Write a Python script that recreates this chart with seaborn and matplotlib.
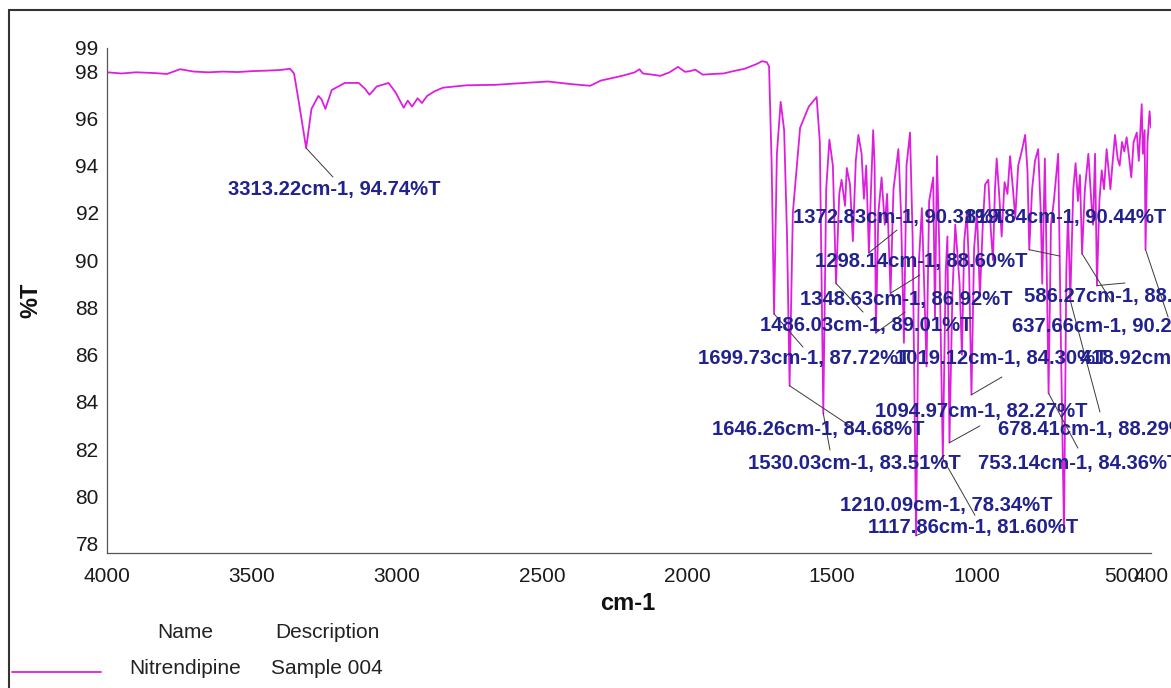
import numpy as np
import pandas as pd
import matplotlib
matplotlib.use("Agg")
import matplotlib.pyplot as plt
from matplotlib.lines import Line2D
import seaborn as sns

# FTIR transmittance spectrum of nitrendipine (wavenumber in cm-1, transmittance in %T)
wavenumber = [
    4000, 3950, 3900, 3840, 3793, 3748, 3700, 3650, 3600, 3550, 3500, 3450, 3400,
    3369, 3355, 3340, 3313.22, 3295, 3271, 3260, 3247, 3225, 3180, 3132, 3110, 3095,
    3070, 3029, 3005, 2977, 2963, 2948, 2929, 2914, 2896, 2870, 2841, 2760, 2660,
    2560, 2479, 2400, 2334, 2297, 2260, 2224, 2180, 2164, 2152, 2120, 2092, 2060,
    2031, 2007, 1990, 1971, 1946, 1910, 1874, 1840, 1801, 1760, 1741, 1725, 1717,
    1708, 1699.73, 1690, 1677, 1665, 1655, 1646.26, 1635, 1610, 1580, 1553, 1542,
    1530.03, 1520, 1509, 1497, 1486.03, 1475, 1467, 1455, 1449, 1438, 1428, 1418,
    1409, 1398, 1390, 1382, 1372.83, 1364, 1358, 1353, 1348.63, 1340, 1329, 1318,
    1310, 1298.14, 1288, 1271, 1262, 1252, 1243, 1231, 1222, 1210.09, 1200, 1190,
    1180, 1174, 1165, 1151, 1145, 1138, 1130, 1117.86, 1108, 1102, 1094.97, 1085,
    1075, 1060, 1052, 1044, 1035, 1027, 1019.12, 1010, 1000, 990, 980, 972, 961,
    952, 945, 938, 932, 922, 915, 905, 895, 886, 876, 868, 858, 846, 834, 826,
    819.84, 810, 800, 789, 780, 775, 768, 766, 760, 753.14, 745, 735, 720, 710,
    700, 692, 686, 678.41, 668, 660, 652, 645, 637.66, 628, 616, 606, 600, 593,
    586.27, 578, 570, 562, 553, 540, 532, 524, 515, 508, 500, 492, 484, 476, 468,
    460, 449, 442, 437, 432, 428, 422, 418.92, 412, 405, 400,
]
transmittance = [
    97.95, 97.90, 97.95, 97.92, 97.88, 98.08, 97.98, 97.95, 97.98, 97.96, 98.00, 98.02, 98.05,
    98.10, 97.90, 96.80, 94.74, 96.40, 96.95, 96.80, 96.40, 97.20, 97.50, 97.50, 97.25, 97.00,
    97.35, 97.50, 97.10, 96.45, 96.75, 96.50, 96.85, 96.65, 96.95, 97.15, 97.30, 97.40, 97.42,
    97.50, 97.56, 97.45, 97.38, 97.60, 97.70, 97.80, 97.95, 98.08, 97.90, 97.85, 97.80, 97.95,
    98.18, 97.97, 98.00, 98.06, 97.85, 97.88, 97.90, 98.00, 98.10, 98.30, 98.42, 98.38, 98.20,
    94.00, 87.72, 94.50, 96.70, 95.50, 91.00, 84.68, 92.00, 95.60, 96.50, 96.90, 95.00,
    83.51, 93.00, 95.10, 94.00, 89.01, 92.80, 93.40, 92.30, 93.90, 93.20, 90.80, 94.20,
    95.30, 94.50, 92.60, 94.00, 90.31, 93.50, 95.50, 94.00, 86.92, 92.00, 93.50, 91.50,
    92.80, 88.60, 93.00, 94.70, 92.00, 86.50, 94.00, 95.40, 91.00, 78.34, 90.00, 92.20,
    88.00, 85.50, 92.50, 93.50, 87.50, 94.40, 90.50, 81.60, 89.50, 91.00, 82.27, 88.50,
    91.50, 89.00, 86.00, 90.80, 92.00, 89.50, 84.30, 90.50, 92.00, 88.50, 91.50, 93.20, 93.40,
    91.20, 90.00, 93.00, 94.30, 92.50, 91.00, 93.30, 92.80, 94.40, 93.00, 91.80, 94.00, 94.60, 95.30, 93.80,
    90.44, 93.00, 94.20, 94.70, 92.00, 89.00, 93.20, 94.30, 90.00, 84.36, 91.50, 92.50, 94.50, 86.00,
    78.50, 89.50, 92.00, 88.29, 93.00, 94.10, 92.50, 93.60, 90.27, 93.00, 94.50, 92.50, 91.50, 94.50,
    88.92, 92.50, 93.80, 93.00, 94.70, 93.00, 94.20, 95.30, 94.30, 94.00, 95.00, 94.60, 95.20, 94.40, 93.50,
    95.00, 95.40, 94.20, 95.40, 96.60, 94.50, 95.50, 90.45, 95.00, 96.30, 95.60,
]

# Peak annotations: wavenumber, %T and printed label text
peak_wn = [3313.22, 1372.83, 819.84, 1298.14, 1348.63, 586.27, 1486.03, 637.66, 1699.73,
           1019.12, 418.92, 1094.97, 1646.26, 678.41, 1530.03, 753.14, 1210.09, 1117.86]
peak_t = [94.74, 90.31, 90.44, 88.60, 86.92, 88.92, 89.01, 90.27, 87.72,
          84.30, 90.45, 82.27, 84.68, 88.29, 83.51, 84.36, 78.34, 81.60]

# Where each label sits (left edge, vertical centre) and where its leader line ends
label_pos = [(3583, 92.97), (1634, 91.82), (1041, 91.82), (1559, 89.92), (1610, 88.35),
             (838, 88.44), (1748, 87.25), (879, 87.17), (1962, 85.85), (1283, 85.85),
             (645, 85.85), (1352, 83.61), (1914, 82.81), (928, 82.81), (1790, 81.41),
             (997, 81.41), (1472, 79.59), (1376, 78.66)]
leader_end = [(3221, 93.52), (1276, 91.27), (714, 90.17), (1197, 89.37), (1248, 87.80),
              (490, 89.03), (1393, 87.80), (535, 88.22), (1600, 86.32), (914, 85.05),
              (341, 87.59), (990, 82.98), (1428, 82.90), (576, 83.57), (1507, 81.96),
              (652, 82.04), (1179, 78.49), (1007, 79.20)]

x_ticks = [4000, 3500, 3000, 2500, 2000, 1500, 1000, 500, 400]
y_ticks = [78, 80, 82, 84, 86, 88, 90, 92, 94, 96, 98, 99]

sns.set_style("white")
plt.rcParams["font.family"] = ["Liberation Sans", "DejaVu Sans"]

W, H = 1171, 688
fig = plt.figure(figsize=(W / 100, H / 100), dpi=100)
ax = fig.add_axes([107 / W, 1 - 553 / H, (1151 - 107) / W, (553 - 47.5) / H])

df = pd.DataFrame({"wn": wavenumber, "T": transmittance})
sns.lineplot(data=df, x="wn", y="T", sort=False, estimator=None, ax=ax,
             color="#dd1fdd", linewidth=1.3)

ax.set_xlim(4000, 400)
ax.set_ylim(77.6, 99.0)
ax.set_xticks(x_ticks)
ax.set_xticklabels([str(v) for v in x_ticks])
ax.set_yticks(y_ticks)
ax.set_yticklabels([str(v) for v in y_ticks])
ax.tick_params(axis="both", direction="out", length=4, width=0.8, color="#555555",
               labelsize=15, labelcolor="#1a1a1a", pad=2)
ax.tick_params(axis="x", pad=6)
for s in ["top", "right"]:
    ax.spines[s].set_visible(False)
for s in ["left", "bottom"]:
    ax.spines[s].set_color("#555555")
    ax.spines[s].set_linewidth(0.9)

ax.set_xlabel("cm-1", fontsize=17, fontweight="bold", color="#111111")
ax.set_ylabel("%T", fontsize=17, fontweight="bold", color="#111111")
ax.xaxis.set_label_coords(0.499, -0.077)
ax.yaxis.set_label_coords(-0.0615, 0.5)

# Peak labels with leader lines
for wn, t, (lx, ly), (ex, ey) in zip(peak_wn, peak_t, label_pos, leader_end):
    ax.plot([wn, ex], [t, ey], color="#3a3a3a", linewidth=0.7, clip_on=False, zorder=3)
    ax.text(lx, ly, f"{wn:.2f}cm-1, {t:.2f}%T", ha="left", va="center",
            fontsize=14.6, fontweight="bold", color="#22228e", clip_on=False, zorder=4)

# Legend table beneath the plot
leg_kw = dict(ha="center", va="center", fontsize=15, color="#222222")
fig.text(185 / W, 1 - 632 / H, "Name", **leg_kw)
fig.text(327 / W, 1 - 632 / H, "Description", **leg_kw)
fig.text(185 / W, 1 - 668 / H, "Nitrendipine", **leg_kw)
fig.text(327 / W, 1 - 668 / H, "Sample 004", **leg_kw)
fig.add_artist(Line2D([12 / W, 101 / W], [1 - 672 / H, 1 - 672 / H],
                      color="#dd1fdd", linewidth=1.3))

# Outer frame
fig.add_artist(Line2D([9 / W, 1.01], [1 - 10 / H, 1 - 10 / H], color="#333333", linewidth=1.5))
fig.add_artist(Line2D([9 / W, 9 / W], [1 - 10 / H, -0.01], color="#333333", linewidth=1.5))

fig.savefig("out.png", dpi=100)
